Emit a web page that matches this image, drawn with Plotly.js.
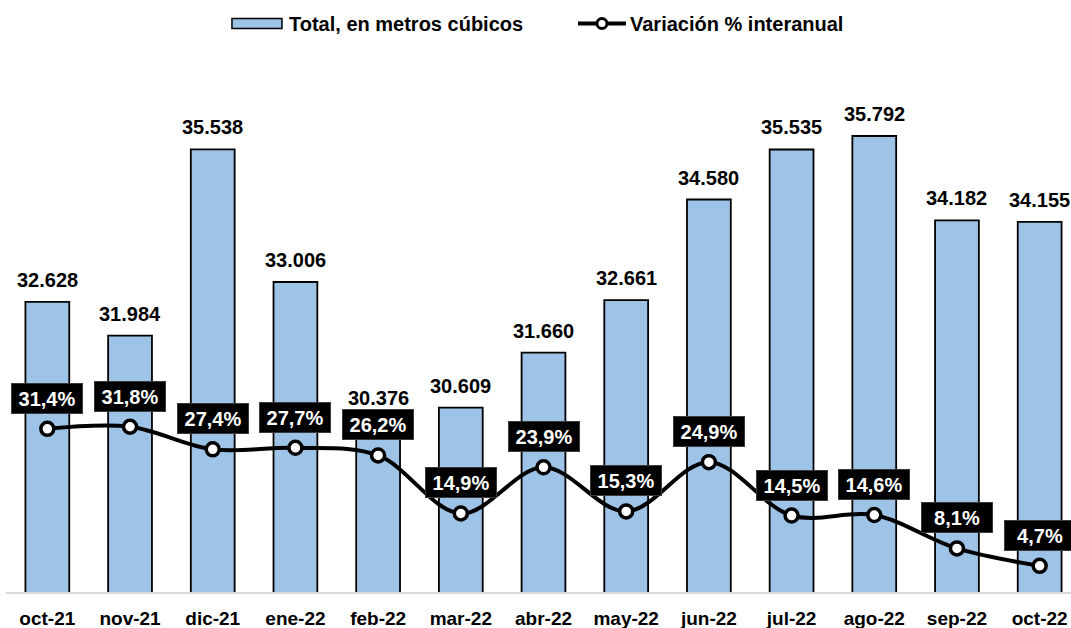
<!DOCTYPE html>
<html>
<head>
<meta charset="utf-8">
<script src="https://cdn.plot.ly/plotly-3.0.1.min.js"></script>
<style>
html,body{margin:0;padding:0;overflow:hidden;background:#fff;}
#chart{width:1090px;height:628px;}
</style>
</head>
<body>
<div id="chart"></div>
<script>
const months = ["oct-21","nov-21","dic-21","ene-22","feb-22","mar-22","abr-22","may-22","jun-22","jul-22","ago-22","sep-22","oct-22"];
const totalM3 = [32628, 31984, 35538, 33006, 30376, 30609, 31660, 32661, 34580, 35535, 35792, 34182, 34155];
const variacionPct = [31.4, 31.8, 27.4, 27.7, 26.2, 14.9, 23.9, 15.3, 24.9, 14.5, 14.6, 8.1, 4.7];
const seriesNames = ["Total, en metros cúbicos", "Variación % interanual"];

function fmtThousands(v){
  return String(v).replace(/\B(?=(\d{3})+(?!\d))/g, ".");
}
function fmtPct(v){
  return v.toFixed(1).replace(".", ",") + "%";
}

const FONT = "Liberation Sans, Arial, sans-serif";
const BAR_COLOR = "#9DC3E6";

const barTrace = {
  type: "bar",
  name: seriesNames[0],
  x: months,
  y: totalM3,
  marker: {color: BAR_COLOR, line: {color: "#000000", width: 1.8}},
  showlegend: false,
  hoverinfo: "x+y"
};

const lineTrace = {
  type: "scatter",
  mode: "lines+markers",
  name: seriesNames[1],
  x: months,
  y: variacionPct,
  yaxis: "y2",
  line: {color: "#000000", width: 4, shape: "spline", smoothing: 1},
  marker: {size: 13, color: "#FFFFFF", line: {color: "#000000", width: 3.5}},
  showlegend: false
};

const annotations = [];
months.forEach((m, i) => {
  annotations.push({
    x: m, y: totalM3[i], xref: "x", yref: "y",
    text: "<b>" + fmtThousands(totalM3[i]) + "</b>",
    showarrow: false, yanchor: "bottom", yshift: 9,
    font: {family: FONT, size: 20, color: "#000000"}
  });
  annotations.push({
    x: m, y: variacionPct[i], xref: "x", yref: "y2",
    text: "<b>" + fmtPct(variacionPct[i]) + "</b>",
    showarrow: false, yanchor: "bottom", yshift: 15,
    width: 66, height: 25, align: "center", valign: "middle",
    bgcolor: "#000000", bordercolor: "#3A3A3A", borderwidth: 1, borderpad: 2,
    font: {family: FONT, size: 20, color: "#FFFFFF"}
  });
});

/* legend drawn in paper coordinates */
const LEG_Y = 1.0849;
annotations.push({
  xref: "paper", yref: "paper", x: 0.2614, y: LEG_Y,
  xanchor: "left", yanchor: "middle", showarrow: false,
  text: "<b>" + seriesNames[0] + "</b>",
  font: {family: FONT, size: 20, color: "#000000"}
});
annotations.push({
  xref: "paper", yref: "paper", x: 0.5786, y: LEG_Y,
  xanchor: "left", yanchor: "middle", showarrow: false,
  text: "<b>" + seriesNames[1] + "</b>",
  font: {family: FONT, size: 20, color: "#000000"}
});

const shapes = [
  {type: "rect", xref: "paper", yref: "paper",
   x0: 0.2102, x1: 0.2567, y0: 1.0754, y1: 1.0945,
   fillcolor: BAR_COLOR, line: {color: "#000000", width: 1.5}},
  {type: "line", xref: "paper", yref: "paper",
   x0: 0.5321, x1: 0.5767, y0: LEG_Y, y1: LEG_Y,
   line: {color: "#000000", width: 4}},
  {type: "circle", xref: "paper", yref: "paper",
   xsizemode: "pixel", ysizemode: "pixel",
   xanchor: 0.5544, yanchor: LEG_Y, x0: -5, x1: 5, y0: -5, y1: 5,
   fillcolor: "#FFFFFF", line: {color: "#000000", width: 3}}
];

const layout = {
  width: 1090,
  height: 628,
  margin: {l: 6, r: 9, t: 68, b: 36, autoexpand: false},
  paper_bgcolor: "#FFFFFF",
  plot_bgcolor: "#FFFFFF",
  bargap: 0.47,
  showlegend: false,
  xaxis: {
    type: "category", automargin: false,
    range: [-0.5, months.length - 0.5],
    showline: true, linecolor: "#D9D9D9", linewidth: 2,
    showgrid: false, ticks: "", ticklabelstandoff: 8,
    tickfont: {family: FONT, size: 19, color: "#000000", weight: "bold"},
    fixedrange: true
  },
  yaxis: {
    range: [27090, 37090], automargin: false,
    showgrid: false, showticklabels: false, zeroline: false, showline: false,
    fixedrange: true
  },
  yaxis2: {
    overlaying: "y", side: "right", automargin: false,
    range: [-0.4, 101.7],
    showgrid: false, showticklabels: false, zeroline: false, showline: false,
    fixedrange: true
  },
  annotations: annotations,
  shapes: shapes
};

Plotly.newPlot("chart", [barTrace, lineTrace], layout, {displayModeBar: false, staticPlot: true});
</script>
</body>
</html>
